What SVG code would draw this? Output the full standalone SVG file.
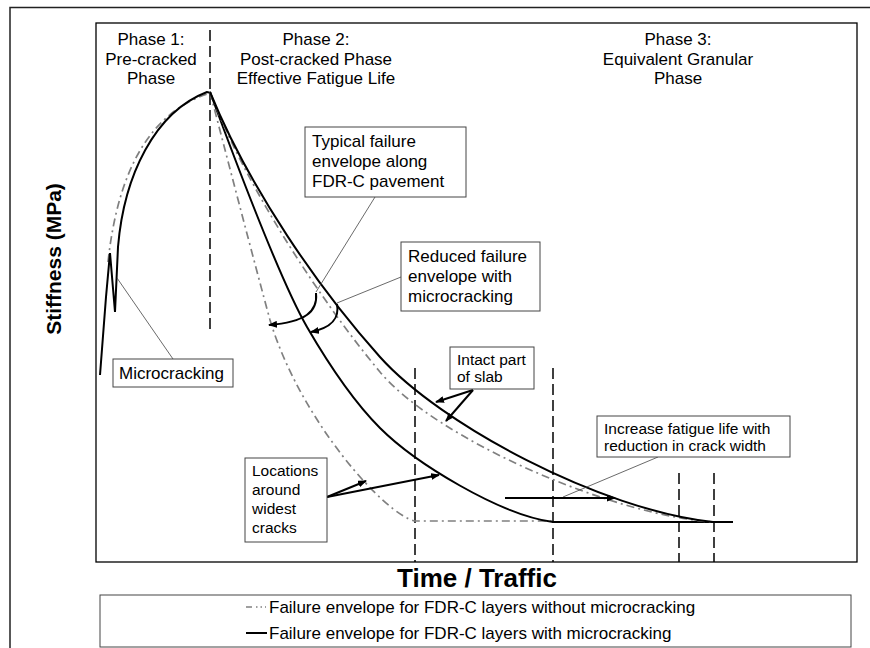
<svg xmlns="http://www.w3.org/2000/svg" width="870" height="648" viewBox="0 0 870 648">
<defs>
<style>
.t{font-family:"Liberation Sans",Arial,sans-serif;fill:#000}
.ph{font-size:17px;text-anchor:middle}
.lb{font-size:17px}
.sm{font-size:15.5px}
.ax{font-weight:bold}
.box{fill:#fff;stroke:#444;stroke-width:1}
.sol{fill:none;stroke:#000;stroke-width:2}
.dd{fill:none;stroke:#808080;stroke-width:1.7;stroke-dasharray:8 4 2 4}
.vd{fill:none;stroke:#000;stroke-width:1.5;stroke-dasharray:11 5}
.ld{fill:none;stroke:#444;stroke-width:0.8}
.ar{fill:none;stroke:#000;stroke-width:2;marker-end:url(#ah)}
</style>
<marker id="ah" viewBox="0 0 9 7" refX="8" refY="3.5" markerWidth="9" markerHeight="7" markerUnits="userSpaceOnUse" orient="auto"><path d="M0,0 L9,3.5 L0,7 z" fill="#000"/></marker>
</defs>
<rect width="870" height="648" fill="#fff"/>
<g id="frame">
<path d="M10,648 L10,7.5 L870,7.5" fill="none" stroke="#222" stroke-width="1.5"/>
<rect x="96" y="23" width="761" height="539" fill="none" stroke="#000" stroke-width="1.3"/>
</g>
<g id="axis-labels">
<text class="t ax" x="477" y="587" font-size="26" text-anchor="middle">Time / Traffic</text>
<text class="t ax" font-size="21" text-anchor="middle" transform="translate(61,259) rotate(-90)">Stiffness (MPa)</text>
</g>
<g id="phase-labels">
<text class="t ph" x="151" y="45">Phase 1:</text>
<text class="t ph" x="151" y="65">Pre-cracked</text>
<text class="t ph" x="151" y="84">Phase</text>
<text class="t ph" x="316" y="45">Phase 2:</text>
<text class="t ph" x="316" y="65">Post-cracked Phase</text>
<text class="t ph" x="316" y="84">Effective Fatigue Life</text>
<text class="t ph" x="678" y="45">Phase 3:</text>
<text class="t ph" x="678" y="65">Equivalent Granular</text>
<text class="t ph" x="678" y="84">Phase</text>
</g>
<g id="connectors">
<path class="vd" d="M210,30 L210,333"/>
<path class="vd" d="M415,368 L415,562"/>
<path class="vd" d="M553,368 L553,562"/>
<path class="vd" d="M679,473 L679,562"/>
<path class="vd" d="M714,473 L714,562"/>
<path class="dd" d="M108,262 C118,170 150,112 210,93"/>
<path class="sol" d="M100,375 L106,297 L110,253 L115,312 L118,247 C124,175 155,112 207,92 L211,93"/>
<path class="dd" d="M210,92 C225,150 255,265 270,320 C300,420 385,515 415,521 L553,521"/>
<path class="sol" d="M210,92 C235,160 280,280 307,327 C325,358 352,400 380,428 C415,463 500,515 553,522 L733,522"/>
<path class="dd" d="M210,92 C245,185 320,300 380,372 C435,438 610,515 713,522"/>
<path class="sol" d="M210,92 C250,190 320,290 380,357 C440,424 600,510 713,522"/>
<path class="ld" d="M173,359 L117,278"/>
<path class="ld" d="M375,197 L316,292"/>
<path class="ar" d="M316,293 C318,312 305,322 269,325"/>
<path class="ld" d="M401,277 L337,303"/>
<path class="ar" d="M337,304 C340,320 330,328 311,332"/>
<path class="ar" d="M473,390 L436,402"/>
<path class="ar" d="M473,390 L446,421"/>
<path class="ar" d="M327,497 L439,475"/>
<path class="ar" d="M327,497 L366,481"/>
<path class="ld" d="M658,457 L563,497"/>
<path class="ar" d="M505,498 L615,498"/>
</g>
<g id="node-microcracking">
<rect class="box" x="113" y="359" width="120" height="28"/>
<text class="t lb" x="119" y="379">Microcracking</text>
</g>
<g id="node-typical">
<rect class="box" x="305" y="127" width="161" height="70"/>
<text class="t lb" x="312" y="147">Typical failure</text>
<text class="t lb" x="312" y="167">envelope along</text>
<text class="t lb" x="312" y="187">FDR-C pavement</text>
</g>
<g id="node-reduced">
<rect class="box" x="401" y="242" width="139" height="69"/>
<text class="t lb" x="408" y="262">Reduced failure</text>
<text class="t lb" x="408" y="282">envelope with</text>
<text class="t lb" x="408" y="302">microcracking</text>
</g>
<g id="node-intact">
<rect class="box" x="450" y="347" width="84" height="42"/>
<text class="t sm" x="457" y="365">Intact part</text>
<text class="t sm" x="457" y="382">of slab</text>
</g>
<g id="node-increase">
<rect class="box" x="597" y="416" width="193" height="41"/>
<text class="t sm" x="604" y="434">Increase fatigue life with</text>
<text class="t sm" x="604" y="451">reduction in crack width</text>
</g>
<g id="node-locations">
<rect class="box" x="245" y="458" width="82" height="84"/>
<text class="t sm" x="252" y="476">Locations</text>
<text class="t sm" x="252" y="495">around</text>
<text class="t sm" x="252" y="514">widest</text>
<text class="t sm" x="252" y="533">cracks</text>
</g>
<g id="legend">
<rect x="100" y="595" width="751" height="52" fill="#fff" stroke="#444" stroke-width="1"/>
<path d="M246,607 L266,607" fill="none" stroke="#808080" stroke-width="1.7" stroke-dasharray="6 4 1.5 3 1.5 3"/>
<text class="t lb" x="269" y="613">Failure envelope for FDR-C layers without microcracking</text>
<path d="M246,633 L267,633" fill="none" stroke="#000" stroke-width="2"/>
<text class="t lb" x="269" y="639">Failure envelope for FDR-C layers with microcracking</text>
</g>
</svg>
